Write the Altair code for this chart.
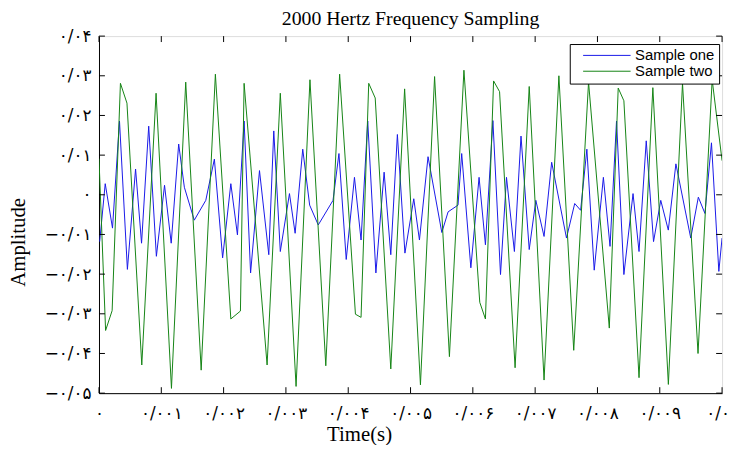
import json
import altair as alt
import pandas as pd

# ---- data (time in ms, amplitude) ----
green_t_ms = [0.000, 0.106, 0.211, 0.344, 0.449, 0.687, 0.916, 1.163, 1.392, 1.640,
              1.868, 2.116, 2.270, 2.329, 2.698, 2.910, 3.163, 3.386, 3.640, 3.862,
              4.116, 4.206, 4.329, 4.433, 4.683, 4.905, 5.159, 5.386, 5.624, 5.857,
              6.111, 6.202, 6.333, 6.429, 6.678, 6.905, 7.143, 7.381, 7.619, 7.857,
              8.190, 8.333, 8.424, 8.667, 8.889, 9.138, 9.365, 9.614, 9.841, 10.000]
green_v = [0.0091, -0.0342, -0.0292, 0.0281, 0.0231, -0.0429, 0.0256, -0.0488, 0.0284, -0.0442,
           0.0304, -0.0313, -0.0293, 0.0281, -0.0429, 0.0256, -0.0483, 0.0290, -0.0431, 0.0304,
           -0.0301, -0.0309, 0.0281, 0.0244, -0.0439, 0.0267, -0.0479, 0.0298, -0.0408, 0.0314,
           -0.0271, -0.0313, 0.0287, 0.0260, -0.0436, 0.0273, -0.0467, 0.0300, -0.0392, 0.0284,
           -0.0336, 0.0269, 0.0237, -0.0461, 0.0270, -0.0478, 0.0281, -0.0400, 0.0290, 0.0086]

blue_t_ms = [0.011, 0.100, 0.217, 0.329, 0.456, 0.587, 0.683, 0.798, 0.921, 1.052,
             1.159, 1.279, 1.370, 1.529, 1.714, 1.852, 1.984, 2.116, 2.222, 2.329,
             2.433, 2.576, 2.725, 2.805, 2.910, 3.057, 3.148, 3.270, 3.381, 3.519,
             3.756, 3.851, 3.968, 4.100, 4.206, 4.313, 4.444, 4.576, 4.683, 4.789,
             4.910, 5.052, 5.143, 5.281, 5.502, 5.603, 5.762, 5.821, 5.968, 6.100,
             6.202, 6.322, 6.444, 6.540, 6.667, 6.773, 6.905, 7.011, 7.143, 7.265,
             7.503, 7.635, 7.730, 7.830, 7.948, 8.095, 8.202, 8.306, 8.424, 8.571,
             8.667, 8.783, 8.900, 9.016, 9.137, 9.259, 9.497, 9.619, 9.725, 9.830,
             9.948, 10.000]
blue_v = [-0.0118, 0.0028, -0.0084, 0.0186, -0.0188, 0.0065, -0.0122, 0.0173, -0.0155, 0.0024,
          -0.0122, 0.0128, 0.0019, -0.0064, -0.0014, 0.0090, -0.0159, 0.0028, -0.0101, 0.0186,
          -0.0197, 0.0061, -0.0151, 0.0161, -0.0143, 0.0003, -0.0097, 0.0115, -0.0026, -0.0076,
          -0.0014, 0.0104, -0.0163, 0.0044, -0.0114, 0.0186, -0.0197, 0.0057, -0.0151, 0.0152,
          -0.0147, -0.0010, -0.0114, 0.0096, -0.0095, -0.0043, -0.0026, 0.0104, -0.0184, 0.0044,
          -0.0126, 0.0187, -0.0201, 0.0044, -0.0143, 0.0148, -0.0138, -0.0014, -0.0105, 0.0082,
          -0.0109, -0.0022, -0.0039, 0.0115, -0.0190, 0.0044, -0.0130, 0.0186, -0.0201, 0.0003,
          -0.0143, 0.0136, -0.0118, -0.0014, -0.0089, 0.0078, -0.0109, -0.0006, -0.0047, 0.0131,
          -0.0193, -0.0109]

series_names = ["Sample one", "Sample two"]
series_colors = ["#1818e8", "#148414"]

x_ticks = [0, 0.001, 0.002, 0.003, 0.004, 0.005, 0.006, 0.007, 0.008, 0.009, 0.01]
x_labels = ["۰", "۰/۰۰۱", "۰/۰۰۲", "۰/۰۰۳", "۰/۰۰۴", "۰/۰۰۵",
            "۰/۰۰۶", "۰/۰۰۷", "۰/۰۰۸", "۰/۰۰۹", "۰/۰۱"]
y_ticks = [-0.05, -0.04, -0.03, -0.02, -0.01, 0, 0.01, 0.02, 0.03, 0.04]
y_labels = ["−۰/۰۵", "−۰/۰۴", "−۰/۰۳", "−۰/۰۲", "−۰/۰۱", "۰",
            "۰/۰۱", "۰/۰۲", "۰/۰۳", "۰/۰۴"]

rows = []
for i, (t, v) in enumerate(zip(blue_t_ms, blue_v)):
    rows.append({"t": t / 1000.0, "v": v, "series": series_names[0], "o": i})
for i, (t, v) in enumerate(zip(green_t_ms, green_v)):
    rows.append({"t": t / 1000.0, "v": v, "series": series_names[1], "o": i})
df = pd.DataFrame(rows)

W, H = 630, 361
serif = "Liberation Serif"
label_font = "DejaVu Sans"
label_size = 17

x_expr = json.dumps(x_labels, ensure_ascii=False) + "[round(datum.value*1000)]"
y_expr = json.dumps(y_labels, ensure_ascii=False) + "[round(datum.value*100)+5]"

xs = alt.Scale(domain=[0, 0.01], nice=False, zero=False)
ys = alt.Scale(domain=[-0.05, 0.04], nice=False, zero=False)

x_axis = alt.Axis(values=x_ticks, labelExpr=x_expr, title="Time(s)",
                  grid=False, domain=True, domainColor="black", ticks=False,
                  labelFont=label_font, labelFontSize=label_size, labelColor="black",
                  labelPadding=13, labelFlush=False, labelOverlap=False,
                  titleFont=serif, titleFontSize=21, titleFontWeight="normal",
                  titleColor="black", titleX=263, titleY=42,
                  titleBaseline="middle", titleAlign="center")
y_axis = alt.Axis(values=y_ticks, labelExpr=y_expr, title="Amplitude",
                  grid=False, domain=True, domainColor="black", ticks=False,
                  labelFont=label_font, labelFontSize=label_size, labelColor="black",
                  labelPadding=8, labelFlush=False, labelOverlap=False,
                  titleFont=serif, titleFontSize=21, titleFontWeight="normal",
                  titleColor="black", titleX=-81, titleY=208,
                  titleBaseline="middle", titleAlign="center")


def X():
    return alt.X("t:Q", scale=xs, axis=x_axis)


def Y():
    return alt.Y("v:Q", scale=ys, axis=y_axis)


lines = alt.Chart(df).mark_line(strokeWidth=1, clip=True).encode(
    x=X(), y=Y(),
    color=alt.Color("series:N",
                    scale=alt.Scale(domain=series_names, range=series_colors),
                    legend=alt.Legend(title=None, orient="none", legendX=476, legendY=8,
                                      symbolType="M0.5,0H12.5", symbolSize=64,
                                      symbolStrokeWidth=1, labelFont="Liberation Sans",
                                      labelFontSize=15, labelColor="black",
                                      strokeColor="black", fillColor="white",
                                      padding=4, rowPadding=-2, labelOffset=47)),
    order="o:Q",
)

xt = pd.DataFrame({"t": x_ticks})
yt = pd.DataFrame({"v": y_ticks})
tick_len = 6
bot = alt.Chart(xt).mark_rule(color="black", strokeWidth=1).encode(
    x=X(), y=alt.value(H), y2=alt.value(H - tick_len))
top = alt.Chart(xt).mark_rule(color="black", strokeWidth=1).encode(
    x=X(), y=alt.value(0), y2=alt.value(tick_len))
left = alt.Chart(yt).mark_rule(color="black", strokeWidth=1).encode(
    y=Y(), x=alt.value(0), x2=alt.value(tick_len))
right = alt.Chart(yt).mark_rule(color="black", strokeWidth=1).encode(
    y=Y(), x=alt.value(W - tick_len), x2=alt.value(W))

chart = alt.layer(lines, bot, top, left, right).properties(
    width=W, height=H,
    title=alt.TitleParams("2000 Hertz Frequency Sampling", font=serif, fontSize=20,
                          fontWeight="normal", color="black", anchor="middle", offset=-2),
    padding={"left": 92, "top": 26, "right": 7, "bottom": 50},
    autosize=alt.AutoSizeParams(type="none"),
).configure_view(stroke="black", strokeWidth=1).configure(background="white")

chart.save("out.html", embed_options={"renderer": "svg", "actions": False})
